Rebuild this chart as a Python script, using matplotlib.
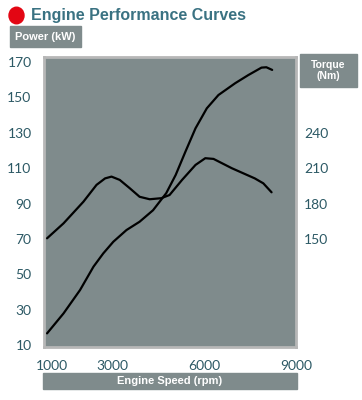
import matplotlib.pyplot as plt
from matplotlib.patches import Rectangle, Circle

# readings
rpm_power = [850, 1390, 1930, 2370, 2690, 3020, 3450, 3880, 4320, 4750, 5060, 5380,
             5710, 6080, 6460, 7010, 7440, 7870, 8030, 8220]
power_kw = [16.6, 27.9, 41.1, 54.3, 61.8, 68.4, 75.0, 79.7, 86.2, 95.8, 106.1, 119.3,
            132.5, 143.8, 151.3, 158.0, 162.6, 166.8, 167.0, 165.5]

rpm_torque = [850, 1390, 2040, 2470, 2750, 2960, 3230, 3560, 3880, 4210, 4590, 4860,
              5270, 5710, 6030, 6300, 6900, 7650, 7930, 8200]
torque_nm = [150.5, 163.2, 181.5, 195.8, 201.3, 202.8, 200.0, 192.9, 185.7, 183.6, 184.5, 187.2,
             200.0, 212.7, 218.4, 217.8, 209.9, 201.3, 197.1, 189.5]

x_ticks = [1000, 3000, 6000, 9000]
power_ticks = [10, 30, 50, 70, 90, 110, 130, 150, 170]
torque_ticks = [150, 180, 210, 240]

W, H = 362, 400
panel = '#7f8b8c'
box = '#7f8b8c'
teal = '#3a7282'
tick_col = '#2c5965'

fig = plt.figure(figsize=(W / 100, H / 100), dpi=100)


def fx(px):
    return px / W


def fy(py):
    return 1 - py / H


ax = fig.add_axes([fx(44), fy(347), fx(296) - fx(44), fy(57) - fy(347)])
ax.set_facecolor(panel)
ylo, yhi = 8.9, 172.8
ax.set_ylim(ylo, yhi)
ax.set_xlim(750, 9000)
for s in ax.spines.values():
    s.set_color('#b7b7b7')
    s.set_linewidth(2)

ax.plot(rpm_power, power_kw, color='black', lw=1.6, solid_capstyle='round', solid_joinstyle='round')

ax2 = ax.twinx()
ax2.set_ylim(1.5 * ylo + 45, 1.5 * yhi + 45)
ax2.plot(rpm_torque, torque_nm, color='black', lw=1.6, solid_capstyle='round', solid_joinstyle='round')
for s in ax2.spines.values():
    s.set_visible(False)

ax.set_yticks(power_ticks)
ax.set_xticks(x_ticks)
ax.tick_params(axis='y', length=0, pad=9, labelsize=10, labelcolor=tick_col)
ax.tick_params(axis='x', length=0, pad=9, labelsize=10, labelcolor=tick_col)
ax2.set_yticks(torque_ticks)
ax2.tick_params(axis='y', length=0, pad=6, labelsize=10, labelcolor=tick_col)
for t in ax.get_xticklabels() + ax.get_yticklabels() + ax2.get_yticklabels():
    t.set_fontfamily('Lato')

# title
fig.patches.append(Circle((fx(16.5), fy(15.5)), 7.5 / W, color='#e30613',
                          transform=fig.transFigure, figure=fig))
fig.text(fx(31), fy(15.5), 'Engine Performance Curves', fontsize=11.5, fontweight='bold',
         color=teal, family='Liberation Sans', va='center', ha='left')


def label_box(x0, y0, x1, y1, text, size):
    fig.patches.append(Rectangle((fx(x0), fy(y1)), fx(x1) - fx(x0), fy(y0) - fy(y1),
                                 color=box, transform=fig.transFigure, figure=fig))
    fig.text(fx((x0 + x1) / 2), fy((y0 + y1) / 2), text, fontsize=size, fontweight='bold',
             color='white', family='Liberation Sans', ha='center', va='center',
             linespacing=1.1)


label_box(10, 26, 81, 47, 'Power (kW)', 8)
label_box(300, 54, 357, 87, 'Torque\n(Nm)', 7.5)
label_box(43, 373, 297, 389, 'Engine Speed (rpm)', 8)

fig.savefig('out.png', dpi=100)
